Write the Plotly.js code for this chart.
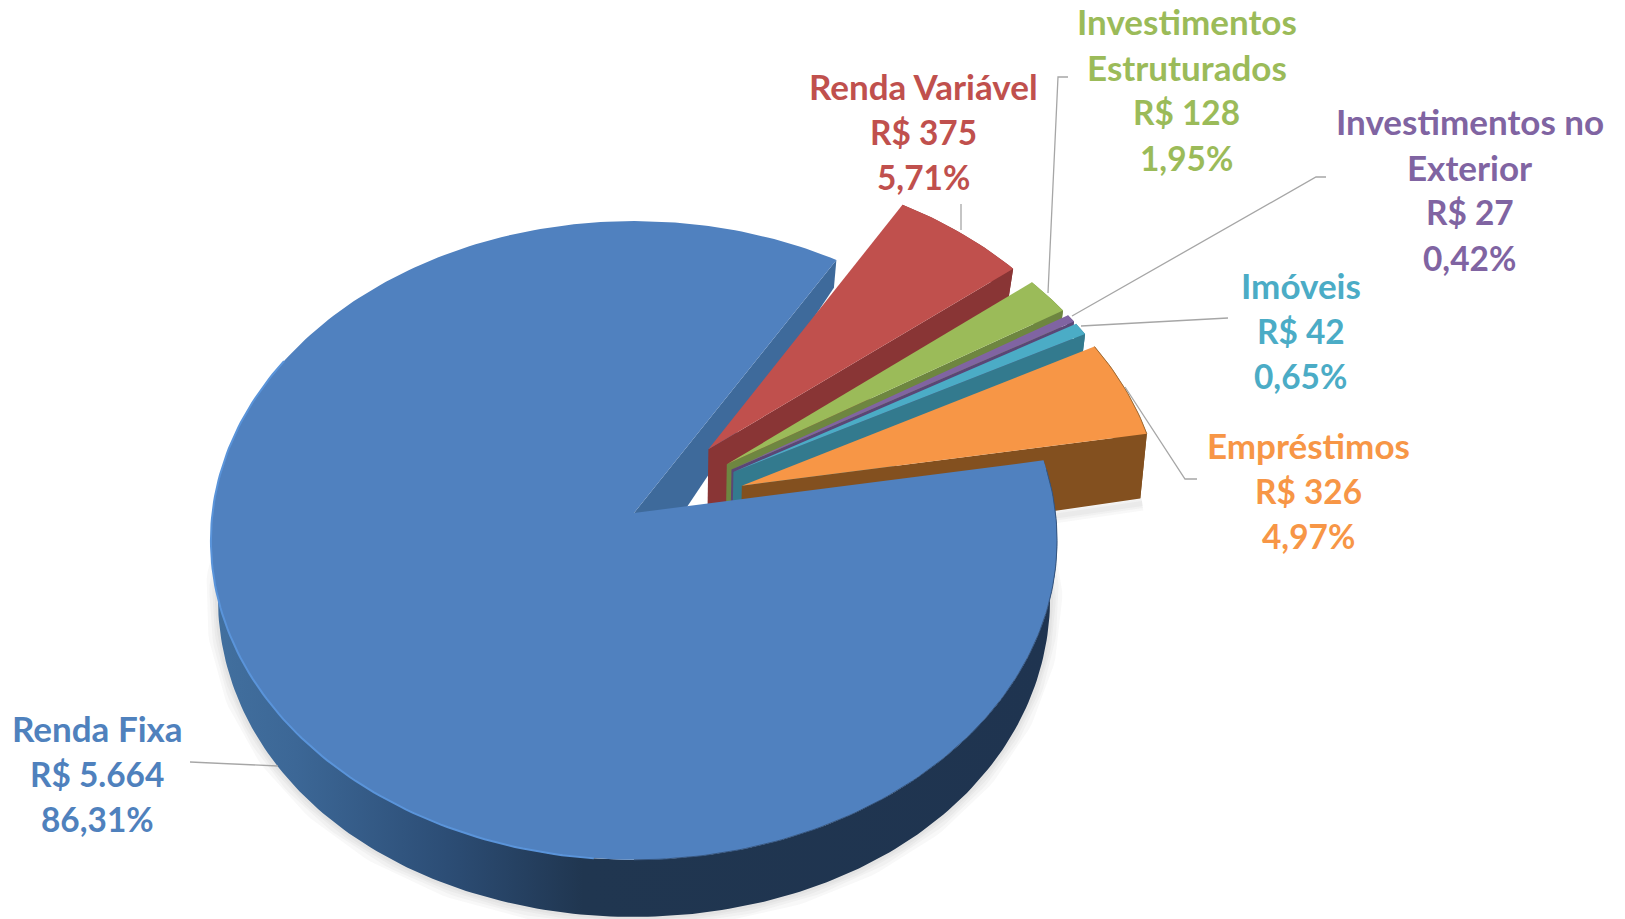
<!DOCTYPE html>
<html>
<head>
<meta charset="utf-8">
<script src="https://cdn.plot.ly/plotly-3.0.1.min.js"></script>
<style>html,body{margin:0;padding:0;background:#fff}#chart{width:1625px;height:919px}</style>
</head>
<body>
<div id="chart"></div>
<script>
// ---- data ----
const amounts = [5664, 375, 128, 27, 42, 326];
const amountLabels = ["R$ 5.664", "R$ 375", "R$ 128", "R$ 27", "R$ 42", "R$ 326"];
const shareLabels = ["86,31%", "5,71%", "1,95%", "0,42%", "0,65%", "4,97%"];
const nameLines = [["Renda Fixa"], ["Renda Variável"], ["Investimentos", "Estruturados"], ["Investimentos no", "Exterior"], ["Imóveis"], ["Empréstimos"]];

// ---- style and layout ----
const topColors = ["#5081bf", "#c0504d", "#9bbb59", "#8064a2", "#4bacc6", "#f79646"];
const sideColors = ["#3e6a9b", "#893535", "#6e8640", "#5a4676", "#337a8e", "#83501f"];
const textColors = ["#4f81bd", "#c0504d", "#9bbb59", "#8064a2", "#4bacc6", "#f79646"];
const explode = [0, 0.272, 0.272, 0.272, 0.272, 0.272];
const startAngle = 80.3;
const labelX = [97.4, 923, 1186.6, 1469.6, 1300.6, 1308];
const labelY = [728, 86, 21, 121, 285, 445];
const lineStep = 45.5;
const nameFontSize = 35;
const figureFontSize = 33.4;
const leaders = [
  [[190, 278], [762, 766]],
  [[961, 961], [204, 230]],
  [[1068, 1058, 1048], [77, 77, 293]],
  [[1326, 1316, 1072], [177, 177, 316]],
  [[1228, 1081], [318, 326]],
  [[1197, 1185, 1125], [479, 479, 387]]
];

// tilted-disc projections of the upper and lower pie faces, in page pixels
function upper(u, v) {
  const w = 1 + 0.086 * v;
  return [634 + 421.5 * u / w, 513 - 317 * v / w];
}
function lower(u, v) {
  const w = 1 + (v >= 0 ? 0.085 : 0.03) * v;
  return [634 + 416 * u / w, 586 - 340 * v / (1 - 0.0275 * v)];
}
const rad = d => d * Math.PI / 180;
const total = amounts.reduce((a, b) => a + b, 0);

// slice geometry from the values: clockwise from startAngle (0 = straight back)
let cursor = startAngle;
const slices = amounts.map((val, i) => {
  const a0 = cursor, a1 = cursor + val / total * 360;
  cursor = a1;
  const mid = rad((a0 + a1) / 2);
  return { a0, a1, hub: [explode[i] * Math.sin(mid), explode[i] * Math.cos(mid)] };
});
const rim = (s, a) => [s.hub[0] + Math.sin(rad(a)), s.hub[1] + Math.cos(rad(a))];
function arc(s, proj, from, to) {
  const n = Math.max(2, Math.ceil(Math.abs(to - from)));
  const out = [];
  for (let k = 0; k <= n; k++) {
    const p = rim(s, from + (to - from) * k / n);
    out.push(proj(p[0], p[1]));
  }
  return out;
}
function poly(pts, fill, extra) {
  return Object.assign({
    type: "scatter", mode: "lines", x: pts.map(p => p[0]), y: pts.map(p => p[1]),
    fill: "toself", fillcolor: fill, line: { width: 0, color: fill },
    hoverinfo: "skip", showlegend: false
  }, extra || {});
}
function stroke(pts, color, width) {
  return {
    type: "scatter", mode: "lines", x: pts.map(p => p[0]), y: pts.map(p => p[1]),
    line: { width, color }, hoverinfo: "skip", showlegend: false
  };
}
function cutFace(s, a, color) {
  const e = rim(s, a);
  return poly([upper(s.hub[0], s.hub[1]), upper(e[0], e[1]), lower(e[0], e[1]), lower(s.hub[0], s.hub[1])], color);
}
function topFace(s, color) {
  return poly([upper(s.hub[0], s.hub[1])].concat(arc(s, upper, s.a0, s.a1)), color);
}

const traces = [];
const main = slices[0];
const last = slices[slices.length - 1];

// soft shadow
[24, 17, 11, 6].forEach(w => traces.push(stroke(arc(main, lower, 70, 300), "rgba(70,70,70,0.035)", w)));
const lastRim = rim(last, last.a1);
const shadowEdge = [lower(lastRim[0], lastRim[1]), lower(last.hub[0], last.hub[1])];
[14, 9, 5].forEach(w => traces.push(stroke(shadowEdge.map(p => [p[0] + 2, p[1] + 5]), "rgba(70,70,70,0.04)", w)));

// main slice's far cut face
traces.push(cutFace(main, main.a1, sideColors[0]));

// pulled-out slices, back to front
for (let i = 1; i < slices.length; i++) {
  const s = slices[i];
  traces.push(poly(arc(s, upper, s.a0, s.a1).concat(arc(s, lower, s.a1, s.a0)), sideColors[i]));
  traces.push(cutFace(s, s.a1, sideColors[i]));
  traces.push(topFace(s, topColors[i]));
}
traces.push(stroke(arc(last, upper, last.a0, last.a1), "#a06c35", 1));

// main slice: front-facing outer wall with its horizontal shading, then the top face and rim
traces.push(poly(arc(main, upper, main.a0, 300).concat(arc(main, lower, 300, main.a0)), "#1f3550", {
  fillgradient: {
    type: "horizontal",
    colorscale: [[0, "#42709f"], [0.1, "#3c6796"], [0.28, "#2c4d75"], [0.44, "#203650"], [1, "#1f3450"]]
  }
}));
traces.push(topFace(main, topColors[0]));
traces.push(stroke(arc(main, upper, 185, 300), "#5a94da", 2));
traces.push(stroke(arc(main, upper, 82, 180), "#35557f", 1));

// leader lines
leaders.forEach(l => traces.push({
  type: "scatter", mode: "lines", x: l[0], y: l[1],
  line: { width: 1.3, color: "#a6a6a6" }, hoverinfo: "skip", showlegend: false
}));

// labels: one annotation per line
const annotations = [];
nameLines.forEach((lines, i) => {
  lines.concat([amountLabels[i], shareLabels[i]]).forEach((text, k) => annotations.push({
    x: labelX[i], y: labelY[i] + k * lineStep, xref: "x", yref: "y",
    text, showarrow: false, xanchor: "center", yanchor: "middle",
    font: { family: "Lato, sans-serif", size: k < lines.length ? nameFontSize : figureFontSize, weight: 700, color: textColors[i] }
  }));
});

const hidden = { visible: false, fixedrange: true };
Plotly.newPlot("chart", traces, {
  width: 1625, height: 919,
  margin: { l: 0, r: 0, t: 0, b: 0 },
  paper_bgcolor: "#ffffff", plot_bgcolor: "#ffffff",
  showlegend: false,
  xaxis: Object.assign({ range: [0, 1625] }, hidden),
  yaxis: Object.assign({ range: [919, 0] }, hidden),
  annotations
}, { displayModeBar: false, staticPlot: true });
</script>
</body>
</html>
